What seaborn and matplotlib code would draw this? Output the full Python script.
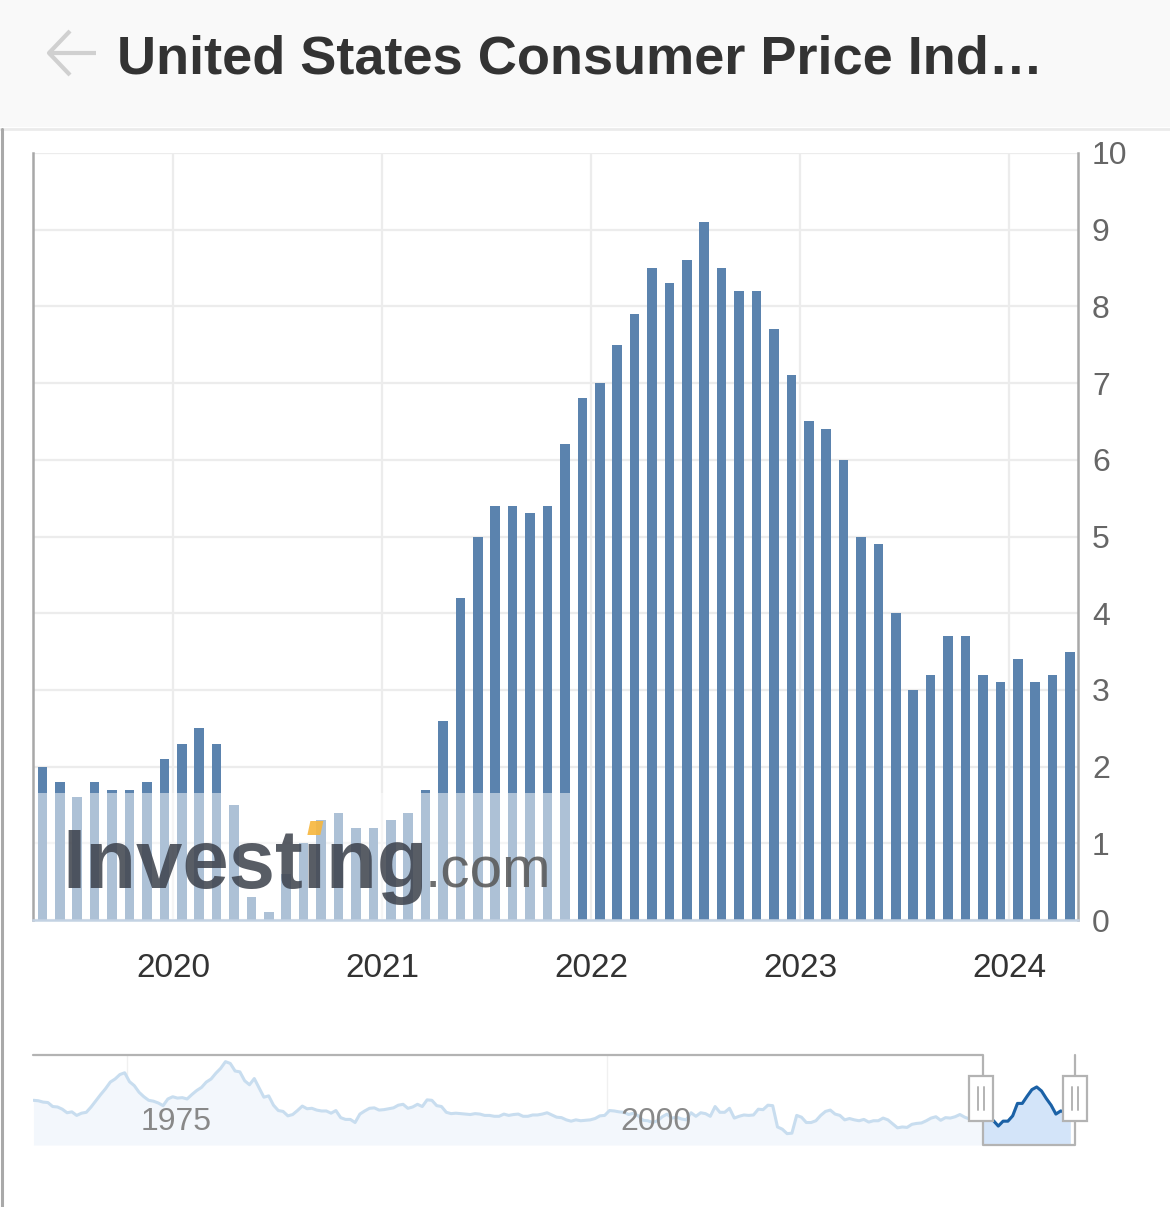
import numpy as np
import pandas as pd
import matplotlib
matplotlib.use("Agg")
import matplotlib.pyplot as plt
from matplotlib.patches import Rectangle, Polygon
from matplotlib.lines import Line2D
from matplotlib.transforms import IdentityTransform
import seaborn as sns

# ---- data ----
title = "United States Consumer Price Ind\u2026"
first_month = "2019-04"
last_month = "2024-03"
# CPI YoY %, Apr 2019 .. Mar 2024 (bars sit at the release date, ~1.5 months later)
cpi_yoy = [2.0, 1.8, 1.6, 1.8, 1.7, 1.7, 1.8, 2.1, 2.3,
           2.5, 2.3, 1.5, 0.3, 0.1, 0.6, 1.0, 1.3, 1.4, 1.2, 1.2, 1.3,
           1.4, 1.7, 2.6, 4.2, 5.0, 5.4, 5.4, 5.3, 5.4, 6.2, 6.8, 7.0,
           7.5, 7.9, 8.5, 8.3, 8.6, 9.1, 8.5, 8.2, 8.2, 7.7, 7.1, 6.5,
           6.4, 6.0, 5.0, 4.9, 4.0, 3.0, 3.2, 3.7, 3.7, 3.2, 3.1, 3.4,
           3.1, 3.2, 3.5]
year_ticks = [2020, 2021, 2022, 2023, 2024]
value_ticks = list(range(0, 11))

# navigator: long history, one value per quarter from 1970 Q1
nav_start = 1970
nav_values = [
    6.1, 6.0, 5.7, 5.6,  4.7, 4.6, 4.1, 3.3,  3.5, 2.7, 3.2, 3.4,
    4.6, 6.0, 7.4, 8.7,  10.2, 10.9, 11.9, 12.3,  10.3, 9.4, 7.9, 6.9,
    6.1, 5.9, 5.5, 4.9,  6.4, 6.9, 6.6, 6.7,  6.4, 7.4, 8.3, 9.0,
    10.2, 10.9, 12.2, 13.3,  14.8, 14.4, 12.7, 12.5,  10.5, 9.6, 11.0, 8.9,
    6.8, 7.1, 5.0, 3.8,  3.6, 2.6, 2.9, 3.8,  4.8, 4.2, 4.3, 3.9,
    3.7, 3.7, 3.2, 3.8,  2.2, 1.8, 1.8, 1.1,  3.0, 3.7, 4.3, 4.4,
    3.9, 4.0, 4.2, 4.4,  5.0, 5.2, 4.3, 4.6,  5.2, 4.7, 6.2, 6.1,
    4.9, 4.7, 3.4, 3.1,  3.2, 3.1, 3.0, 2.9,  3.1, 3.0, 2.7, 2.7,
    2.5, 2.5, 3.0, 2.7,  2.9, 3.0, 2.5, 2.5,  2.8, 2.8, 3.0, 3.3,
    2.8, 2.3, 2.2, 1.7,  1.4, 1.7, 1.5, 1.6,  1.7, 2.0, 2.6, 2.7,
    3.8, 3.7, 3.5, 3.4,  2.9, 3.2, 2.6, 1.6,  1.5, 1.1, 1.5, 2.4,
    3.0, 2.1, 2.3, 1.9,  1.7, 3.3, 2.5, 3.3,  3.1, 2.5, 4.7, 3.4,
    3.4, 4.3, 2.1, 2.5,  2.8, 2.7, 2.8, 4.1,  4.0, 5.0, 4.9, 0.1,
    -0.4, -1.4, -1.3, 2.7,  2.3, 1.1, 1.1, 1.5,  2.7, 3.6, 3.9, 3.0,
    2.7, 1.7, 2.0, 1.7,  1.5, 1.8, 1.2, 1.5,  1.5, 2.1, 1.7, 0.8,
    -0.1, 0.1, 0.0, 0.7,  0.9, 1.0, 1.5, 2.1,  2.4, 1.6, 2.2, 2.1,
    2.4, 2.9, 2.3, 1.9,  1.9, 1.6, 1.7, 2.3,  1.5, 0.3, 1.4, 1.4,
    2.6, 5.4, 5.4, 7.0,  8.5, 9.1, 8.2, 6.5,  5.0, 3.0, 3.7, 3.4,
    3.5]
nav_label_years = [1975, 2000]
nav_selection = (2019.58, 2024.37)

W, H = 1170, 1207
BAR = "#5b83ae"

sns.set_style("white")
plt.rcParams["font.family"] = ["Liberation Sans", "DejaVu Sans"]

fig = plt.figure(figsize=(W / 100, H / 100), dpi=100)


def fx(px):
    return px / W


def fy(py):
    return 1 - py / H


# ---- header bar ----
fig.add_artist(Rectangle((0, fy(127)), 1, 127 / H, transform=fig.transFigure,
                         fc="#f9f9f9", ec="none", zorder=0))
fig.add_artist(Line2D([0, 1], [fy(128.5)] * 2, transform=fig.transFigure,
                      color="#ebebeb", lw=2))
fig.add_artist(Line2D([fx(1.5)] * 2, [fy(129), 0], transform=fig.transFigure,
                      color="#a9a9a9", lw=2.2))
arrow_kw = dict(transform=fig.transFigure, color="#d0d0d0", lw=3,
                solid_capstyle="butt")
fig.add_artist(Line2D([fx(48), fx(96)], [fy(53), fy(53)], **arrow_kw))
fig.add_artist(Line2D([fx(70), fx(49), fx(70)], [fy(31), fy(53), fy(75)], **arrow_kw))
fig.text(fx(117), fy(73), title, fontsize=39, fontweight="bold",
         color="#333333", va="baseline", ha="left")

# ---- main bar chart ----
months = pd.period_range(first_month, last_month, freq="M")
release = months.year + (months.month - 1) / 12 + 0.125
df = pd.DataFrame({"release": release, "cpi": cpi_yoy})

ax = fig.add_axes([fx(33), fy(920), (1078 - 33) / W, (920 - 153) / H])
sns.barplot(data=df, x="release", y="cpi", native_scale=True, color=BAR,
            saturation=1, width=0.55, errorbar=None, linewidth=0, ax=ax)
ax.set_xlim(2019.330, 2024.330)
ax.set_ylim(0, 10)
ax.set_xticks(year_ticks)
ax.set_xticklabels([str(y) for y in year_ticks])
ax.yaxis.tick_right()
ax.set_yticks(value_ticks)
ax.set_yticklabels([str(v) for v in value_ticks])
ax.set_xlabel("")
ax.set_ylabel("")
ax.grid(True, color="#ececec", lw=1.6)
ax.set_axisbelow(True)
ax.spines["top"].set_visible(False)
for side in ("left", "right"):
    ax.spines[side].set_color("#a8a8a8")
    ax.spines[side].set_linewidth(1.8)
ax.spines["bottom"].set_color("#c3d2e3")
ax.spines["bottom"].set_linewidth(1.8)
ax.tick_params(axis="x", length=0, labelsize=24, labelcolor="#333333", pad=24)
ax.tick_params(axis="y", length=0, labelsize=23, labelcolor="#666666", pad=10)

# watermark
ax.add_patch(Rectangle((0, 0), 540 / 1045, 127 / 767, transform=ax.transAxes,
                       fc="white", ec="none", alpha=0.5, zorder=2))
wm_kw = dict(transform=ax.transAxes, fontsize=60, fontweight="bold",
             color="#3b404a", alpha=0.85, va="baseline", zorder=3)
wm_x, wm_y = 29 / 1045, 32 / 767
ax.text(wm_x, wm_y, "Invest\u0131ng", **wm_kw)
ax.text(392 / 1045, wm_y, ".com", transform=ax.transAxes, fontsize=42,
        color="#555555", alpha=0.85, va="baseline", zorder=3)

# orange dot on the dotless i, placed from the measured text width
renderer = fig.canvas.get_renderer()
probe_a = ax.text(wm_x, wm_y, "Invest", **wm_kw)
probe_b = ax.text(wm_x, wm_y, "Invest\u0131", **wm_kw)
xa = probe_a.get_window_extent(renderer).x1
xb = probe_b.get_window_extent(renderer).x1
probe_a.remove()
probe_b.remove()
base_y = ax.transAxes.transform((wm_x, wm_y))[1]
cx, cy = (xa + xb) / 2 + 1, base_y + 60
dot = Polygon([(cx - 8, cy - 7), (cx + 5, cy - 7), (cx + 8, cy + 7), (cx - 5, cy + 7)],
              closed=True, transform=IdentityTransform(), fc="#f7b63c",
              ec="none", alpha=0.9, zorder=6)
fig.add_artist(dot)

# ---- navigator ----
nav_x = nav_start + 0.125 + 0.25 * np.arange(len(nav_values))
nav_lo, nav_hi = -3.96, 16.3
nav = fig.add_axes([fx(33), fy(1145), (1075 - 33) / W, 90 / H])
nav.set_xlim(1970.1, 2024.37)
nav.set_ylim(nav_lo, nav_hi)
for ny in nav_label_years:
    nav.axvline(ny, color="#f0f0f0", lw=1, zorder=0)
    nav.text(ny + 0.7, 0.25, str(ny), transform=nav.get_xaxis_transform(),
             fontsize=23, color="#888888", va="center", ha="left", zorder=4)
nav.fill_between(nav_x, nav_values, nav_lo, color="#f3f7fc", lw=0, zorder=0.5)
sns.lineplot(x=nav_x, y=nav_values, color="#c8ddef", lw=2.2, ax=nav, zorder=2)
sel = Rectangle((nav_selection[0], nav_lo), nav_selection[1] - nav_selection[0],
                nav_hi - nav_lo, transform=nav.transData, fc="none", ec="none")
nav.add_patch(sel)
band = nav.fill_between(nav_x, nav_values, nav_lo, color="#d3e4f9", lw=0, zorder=2.1)
band.set_clip_path(sel)
sel_line, = nav.plot(nav_x, nav_values, color="#1b61a6", lw=2.2, zorder=2.2)
sel_line.set_clip_path(sel)
for s in nav.spines.values():
    s.set_visible(False)
nav.set_xticks([])
nav.set_yticks([])
nav.set_facecolor("white")

outline_x = [1970.1, nav_selection[0], nav_selection[0], nav_selection[1], nav_selection[1]]
outline_y = [1, 1, 0, 0, 1]
nav.plot(outline_x, outline_y, transform=nav.get_xaxis_transform(),
         color="#b3b3b3", lw=1.6, clip_on=False, zorder=3)

# selection handles
for hx in (981, 1075):
    fig.add_artist(Rectangle((fx(hx - 12), fy(1121)), 24 / W, 45 / H,
                             transform=fig.transFigure, fc="white",
                             ec="#b3b3b3", lw=1.6, zorder=5))
    for off in (-3, 3):
        fig.add_artist(Line2D([fx(hx + off)] * 2, [fy(1087), fy(1110)],
                              transform=fig.transFigure, color="#b3b3b3",
                              lw=1.4, zorder=6))

fig.savefig("out.png", dpi=100, facecolor="white")
